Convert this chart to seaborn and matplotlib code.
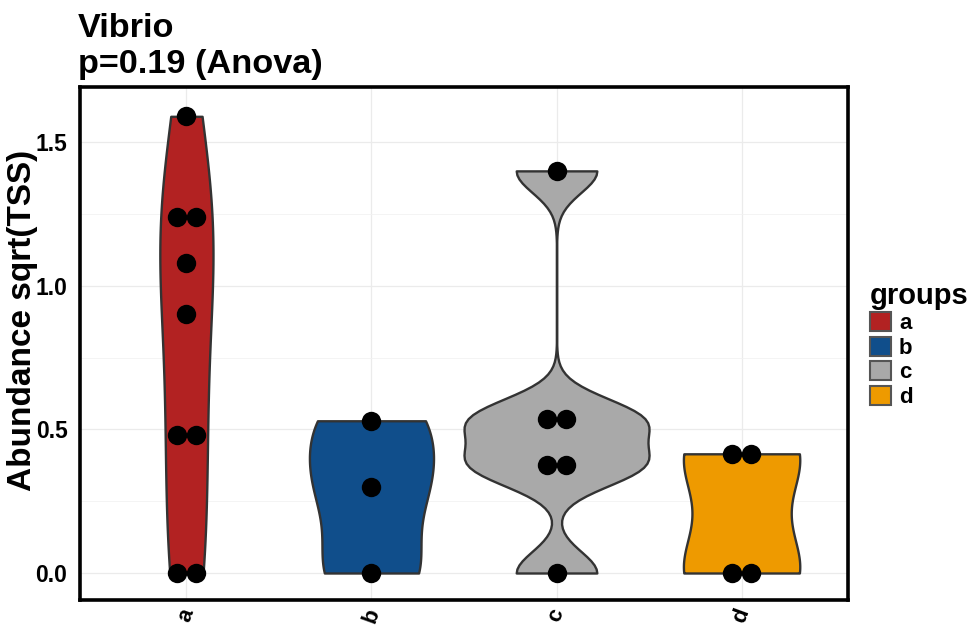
import numpy as np
import pandas as pd
import matplotlib
matplotlib.use("Agg")
import matplotlib.pyplot as plt
from matplotlib.patches import Patch
from matplotlib.ticker import FixedLocator
import seaborn as sns

# ---- data -------------------------------------------------------------
groups = ["a", "b", "c", "d"]
vals_a = [0.0, 0.0, 0.48, 0.48, 0.90, 1.08, 1.24, 1.24, 1.59]
vals_b = [0.0, 0.30, 0.53]
vals_c = [0.0, 0.375, 0.375, 0.535, 0.535, 1.40]
vals_d = [0.0, 0.0, 0.415, 0.415]
group_colors = ["#B22222", "#104E8B", "#A9A9A9", "#EE9A00"]
y_major = [0.0, 0.5, 1.0, 1.5]
y_minor = [0.25, 0.75, 1.25]
title_text = "Vibrio"
subtitle_text = "p=0.19 (Anova)"
y_title = "Abundance sqrt(TSS)"
legend_title = "groups"

df = pd.DataFrame({
    "group": np.repeat(groups, [len(vals_a), len(vals_b), len(vals_c), len(vals_d)]),
    "value": vals_a + vals_b + vals_c + vals_d,
})


def nrd0_factor(kde):
    """Silverman's rule of thumb (R's bw.nrd0) expressed as a scipy factor."""
    x = np.asarray(kde.dataset).ravel()
    sd = x.std(ddof=1)
    q75, q25 = np.percentile(x, [75, 25])
    lo = min(sd, (q75 - q25) / 1.34)
    if lo <= 0:
        lo = sd if sd > 0 else 1.0
    bw = 0.9 * lo * len(x) ** -0.2
    return bw / sd


# ---- style ------------------------------------------------------------
sns.set_theme(style="white")
plt.rcParams["font.family"] = ["Liberation Sans", "DejaVu Sans"]
plt.rcParams["font.weight"] = "bold"
plt.rcParams["axes.titleweight"] = "bold"
plt.rcParams["axes.labelweight"] = "bold"

W, H = 975, 628
fig = plt.figure(figsize=(W / 100, H / 100), dpi=100)
fig.patch.set_facecolor("white")
ax = fig.add_axes([80 / W, 1 - 600 / H, 768 / W, 513 / H])
ax.set_facecolor("white")

sns.violinplot(
    data=df, x="group", y="value", hue="group", order=groups, hue_order=groups,
    palette=group_colors, saturation=1, cut=0, width=1.0, inner=None,
    density_norm="area", common_norm=True, bw_method=nrd0_factor,
    linewidth=1.7, linecolor="#333333", legend=False, ax=ax,
)

# centred dot stacks (dotplot style) on top of each violin
dot_w = 0.103
dot_x, dot_y = [], []
for gi, vals in enumerate([vals_a, vals_b, vals_c, vals_d]):
    uniq, counts = np.unique(vals, return_counts=True)
    for v, m in zip(uniq, counts):
        for k in range(m):
            dot_x.append(gi + (k - (m - 1) / 2) * dot_w)
            dot_y.append(v)
sns.scatterplot(x=dot_x, y=dot_y, color="black", s=195, linewidth=0,
                legend=False, ax=ax, zorder=4)

# ---- axes -------------------------------------------------------------
ax.set_xlim(-0.575, 3.575)
ax.set_ylim(-0.094, 1.692)
ax.set_xticks(range(len(groups)))
ax.set_xticklabels(groups)
ax.set_yticks(y_major)
ax.set_yticklabels([f"{t:.1f}" for t in y_major])
ax.yaxis.set_minor_locator(FixedLocator(y_minor))
ax.set_axisbelow(True)
ax.grid(which="major", axis="both", color="#EBEBEB", linewidth=0.9)
ax.grid(which="minor", axis="y", color="#F2F2F2", linewidth=0.6)
ax.tick_params(which="major", length=3, width=0.8, color="#333333",
               labelsize=16.5, labelcolor="black")
ax.tick_params(axis="y", pad=6)
ax.tick_params(axis="x", pad=1)
ax.tick_params(which="minor", length=0)
for lbl in ax.get_xticklabels():
    lbl.set_rotation(70)
    lbl.set_ha("center")
    lbl.set_va("top")
    lbl.set_fontsize(16)
for sp in ax.spines.values():
    sp.set_visible(True)
    sp.set_color("black")
    sp.set_linewidth(2.6)

ax.set_xlabel("")
ax.set_ylabel(y_title, fontsize=24, fontweight="bold", color="black")
ax.yaxis.set_label_coords(-0.055, 0.545)

fig.text(78 / W, 1 - 37 / H, title_text, fontsize=24.7, fontweight="bold",
         ha="left", va="baseline", color="black")
fig.text(78 / W, 1 - 73 / H, subtitle_text, fontsize=24.7, fontweight="bold",
         ha="left", va="baseline", color="black")

handles = [Patch(facecolor=c, edgecolor="#555555", linewidth=1.5) for c in group_colors]
leg = ax.legend(
    handles, groups, title=legend_title, loc="upper left",
    bbox_to_anchor=(870 / W, 1 - 282 / H), bbox_transform=fig.transFigure,
    frameon=False, prop={"weight": "bold", "size": 16},
    title_fontproperties={"weight": "bold", "size": 21},
    handlelength=0.95, handleheight=0.95, handletextpad=0.35,
    labelspacing=0.1, borderaxespad=0, borderpad=0, alignment="left",
)
for t in leg.get_texts():
    t.set_color("black")
leg.get_title().set_color("black")

fig.savefig("out.png", dpi=100, facecolor="white")
